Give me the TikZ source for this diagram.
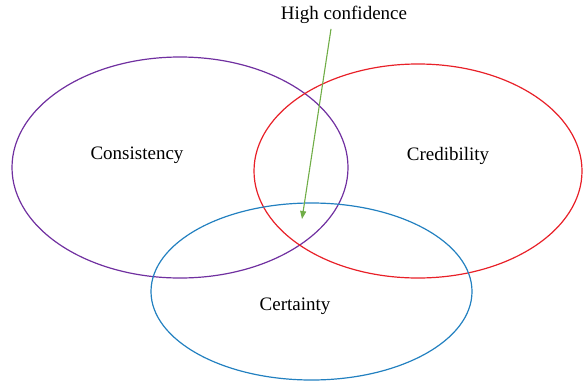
\documentclass[tikz,border=0pt]{standalone}
\usepackage{fontspec}
\setmainfont{Liberation Serif}
\usepackage{tikz}
\usetikzlibrary{arrows.meta,positioning}
\definecolor{setpurple}{RGB}{112,48,160}
\definecolor{setred}{RGB}{232,32,40}
\definecolor{setblue}{RGB}{34,128,192}
\definecolor{setgreen}{RGB}{112,173,71}
\tikzset{
    %Define standard arrow tip
    >={Triangle[length=8pt,width=6pt]},
    %Define style for the sets
    setring/.style={
           line width=1.2pt},
    %Define style for the labels
    setlabel/.style={
           inner sep=1pt,
           font=\fontsize{19}{22}\selectfont,
           text centered},
    % Define arrow style
    pil/.style={
           ->,
           draw=setgreen,
           line width=1.1pt}
}
\begin{document}
\begin{tikzpicture}[x=1pt,y=-1pt]
\useasboundingbox (0,0) rectangle (583,383);
 %centres
\coordinate (cons) at (180,167.5);
\coordinate (cred) at (418,171);
\coordinate (cert) at (311.5,291.5);
 %sets
\draw[setring, setpurple] (cons) ellipse [x radius=168, y radius=110.5];
\draw[setring, setred] (cred) ellipse [x radius=164, y radius=107];
\draw[setring, setblue] (cert) ellipse [x radius=160.5, y radius=88.5];
 %labels
\node[setlabel](conslabel) at (137,155){Consistency};
\node[setlabel](credlabel) at (448,156){Credibility};
\node[setlabel](certlabel) at (295,306){Certainty};
\node[setlabel](hc) at (344,15){High confidence};
 %arrow
\coordinate (hctip) at (302,219);
\draw[pil] ([xshift=-13pt,yshift=-4pt]hc.south) -- (hctip);
\end{tikzpicture}
\end{document}
